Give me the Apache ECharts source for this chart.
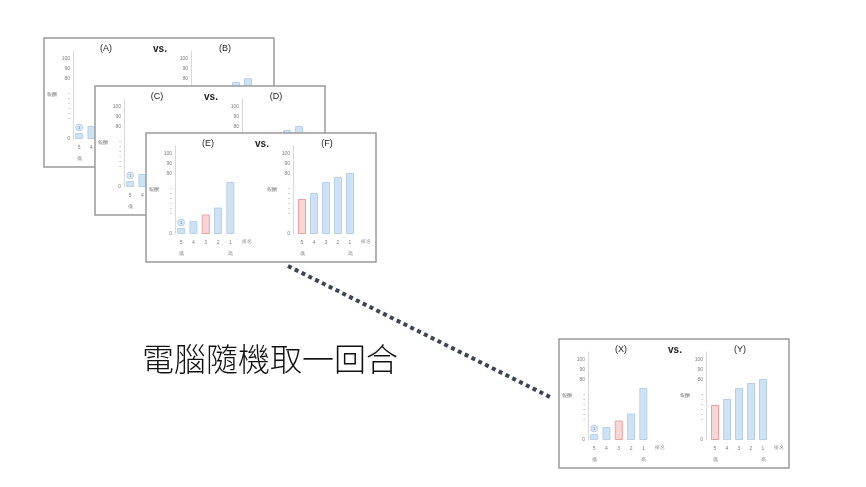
<!DOCTYPE html>
<html>
<head>
<meta charset="utf-8">
<script src="https://cdn.jsdelivr.net/npm/echarts@6/dist/echarts.min.js"></script>
<style>
html,body{margin:0;padding:0;background:#fff;}
#chart{width:866px;height:487px;}
</style>
</head>
<body>
<div id="chart"></div>
<script>
// ---- data (values are in the drawn, broken-axis units) ----
const categories = ['5', '4', '3', '2', '1'];
const leftValues = [1.2, 2.6, 3.9, 5.3, 10.4];
const rightValues = [7.0, 8.2, 10.4, 11.4, 12.2];
const leftHighlight = 2;
const rightHighlight = 0;
const markerValue = 2.3;
const markerText = '1';
const yTickValues = [0, 4, 5, 6, 7, 8, 9, 12, 14, 16];
const yTickTexts = ['0', '-', '-', '-', '-', '-', '-', '80', '90', '100'];
const panelTitles = [['(A)', '(B)'], ['(C)', '(D)'], ['(E)', '(F)'], ['(X)', '(Y)']];
const mainText = '電腦隨機取一回合';

// ---- layout ----
const panels = [
  { x: 44, y: 38, z: 1 },
  { x: 95, y: 86, z: 5 },
  { x: 146, y: 133, z: 9 },
  { x: 559, y: 339, z: 1 }
];
const PW = 230, PH = 129;
const BLUE = '#cfe2f3', BLUE_B = '#b6d0ec';
const RED = '#f8d6d6', RED_B = '#e8a2a2';
const GRAY = '#808080';

const chart = echarts.init(document.getElementById('chart'), null, { renderer: 'canvas' });

const grids = [], xAxes = [], yAxes = [], series = [], graphics = [];

graphics.push({
  type: 'line', z: 0,
  shape: { x1: 288, y1: 266, x2: 552, y2: 398 },
  style: { stroke: '#3b4556', lineWidth: 4, lineDash: [4, 3.6] }
});
graphics.push({
  type: 'text', z: 0, left: 142, top: 343,
  style: { text: mainText, fontSize: 32, fontFamily: 'Noto Sans CJK TC', fontWeight: 300, fill: '#111' }
});

panels.forEach((p, pi) => {
  graphics.push({
    type: 'rect', z: p.z,
    shape: { x: p.x, y: p.y, width: PW, height: PH },
    style: { fill: '#fff', stroke: '#9a9a9a', lineWidth: 1.5 }
  });
  const tStyle = { fontSize: 9, fontFamily: 'Liberation Sans', fill: '#222', align: 'center', verticalAlign: 'middle' };
  graphics.push({ type: 'text', z: p.z + 1, x: p.x + 62, y: p.y + 11, style: Object.assign({ text: panelTitles[pi][0] }, tStyle) });
  graphics.push({ type: 'text', z: p.z + 1, x: p.x + 181, y: p.y + 11, style: Object.assign({ text: panelTitles[pi][1] }, tStyle) });
  graphics.push({ type: 'text', z: p.z + 1, x: p.x + 116, y: p.y + 11, style: Object.assign({ text: 'vs.' }, tStyle, { fontSize: 10, fontWeight: 'bold' }) });

  [0, 1].forEach(side => {
    const gi = grids.length;
    grids.push({
      left: p.x + (side === 0 ? 29 : 150), top: p.y + 13,
      width: side === 0 ? 61.5 : 60, height: 88, containLabel: false
    });
    xAxes.push({
      type: 'category', gridIndex: gi, data: categories, z: p.z + 1,
      axisLine: { show: false }, axisTick: { show: false },
      axisLabel: {
        fontSize: 5, color: GRAY, margin: 5.5, lineHeight: 5.5,
        formatter: (v, i) => i === 0 ? v + '\n\n低' : (i === categories.length - 1 ? v + '\n\n高' : v)
      },
      name: '排名', nameLocation: 'end', nameGap: 5,
      nameTextStyle: { fontSize: 5, color: GRAY, verticalAlign: 'top', padding: [5.5, 0, 0, 0] }
    });
    yAxes.push({
      type: 'value', gridIndex: gi, min: 0, max: 17.6, interval: 1, z: p.z + 1,
      offset: side === 0 ? 0 : 3,
      splitLine: { show: false }, axisTick: { show: false },
      axisLine: { show: true, lineStyle: { color: '#d9d9d9', width: 1 } },
      axisLabel: {
        fontSize: 5, color: GRAY, margin: 3,
        formatter: v => { const k = yTickValues.indexOf(v); return k >= 0 ? yTickTexts[k] : ''; }
      },
      name: '報酬', nameLocation: 'middle', nameRotate: 0, nameGap: 12,
      nameTextStyle: { fontSize: 5, color: GRAY, align: 'right' }
    });
    const vals = side === 0 ? leftValues : rightValues;
    const hi = side === 0 ? leftHighlight : rightHighlight;
    series.push({
      type: 'bar', xAxisIndex: gi, yAxisIndex: gi, z: p.z + 2, barWidth: 8,
      data: vals.map((v, i) => ({
        value: v,
        itemStyle: i === hi ? { color: RED, borderColor: RED_B, borderWidth: 1 } : { color: BLUE, borderColor: BLUE_B, borderWidth: 1 }
      })),
      silent: true
    });
    if (side === 0) {
      series.push({
        type: 'scatter', xAxisIndex: gi, yAxisIndex: gi, z: p.z + 3,
        symbolSize: 7, data: [[0, markerValue]],
        itemStyle: { color: BLUE, borderColor: '#9fc2e7', borderWidth: 0.8 },
        label: { show: true, position: 'inside', formatter: markerText, fontSize: 4, color: '#555' },
        silent: true
      });
    }
  });
});

chart.setOption({
  animation: false,
  backgroundColor: '#fff',
  grid: grids, xAxis: xAxes, yAxis: yAxes, series: series,
  graphic: graphics
});
</script>
</body>
</html>
